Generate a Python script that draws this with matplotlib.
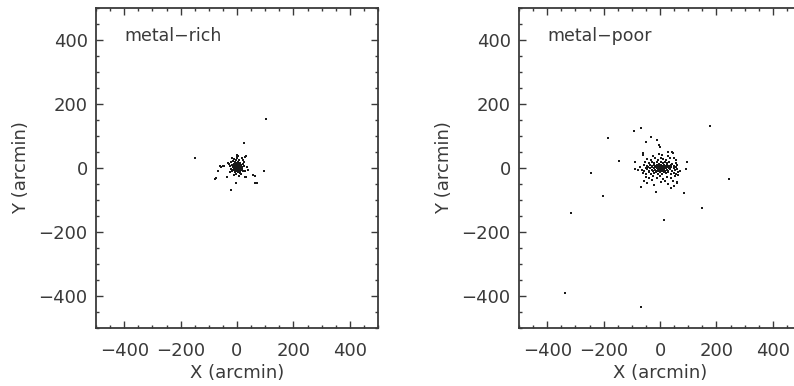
import matplotlib
matplotlib.use("Agg")
import matplotlib.pyplot as plt
from matplotlib.ticker import MultipleLocator

# ---------------- data (arcmin) ----------------
rich_x = [103, -149, 26, 96, 65, 70, 63, -21, -77, -66, -4, -35, 32, 33, -60, -50, 1, 40,
          5, 28, 20, -57, -46, -31, 34, -74, -37, 28, 58, 64,
          -28, -24, -22, -20, -18, -17, -15, -14, -13, -12, -11, -10, -9, -8, -7, -6, -6, -5,
          -4, -4, -3, -2, -2, -1, 0, 0, 1, 1, 2, 2, 3, 3, 4, 5, 5, 6, 7, 7, 8, 9, 10, 10,
          11, 12, 13, 14, 15, 16, 18, 18, 20, 22, 24, 26, -16, 0, -26, 28, -12, 6, -3, 4,
          -8, 12]
rich_y = [154, 30, 77, -9, -48, -48, -24, -69, -33, -8, -48, -27, -27, 37, 7, 7, 40, -6,
          37, 35, 25, 4, 7, 17, 4, -32, -27, -29, -22, -48,
          12, 5, -4, 18, 8, -10, 22, 2, -6, 14, 28, -2, 6, -14, 18, 10, -5, 2,
          25, -9, 13, 4, -18, 8, -3, 16, 1, 30, -7, 10, 5, -12, 20, 0, -4, 12, -8, 3, 24, -2, 8, -15,
          15, 2, -6, 10, -20, 4, 30, -3, 12, -10, 5, 18, 32, 38, -14, -8, -22, -25, 0, 6,
          2, -12]

poor_x = [179, -68, -91, -184, -33, -48, -12, -4, 0, -147, -244, 246, -201, 85, 150, -317,
          14, -337, -67, 96, 91, -89, -88, -77, -66, -13, 38, 61, -45, -60, -62, 29, 41, 57,
          61, 65, 60,
          -50, -38, -25, -12, 0, 12, 25, 40, 52, -30, 18, 45, -55, 5, 30, -20, 50,
          -60, -48, -40, -32, -22, -15, -8, 0, 6, 14, 22, 30, 38, 48, 58, 65,
          -65, -55, -45, -38, -30, -25, -18, -12, -6, -2, 3, 8, 12, 18, 24, 30, 36, 44, 52,
          60, 70,
          -70, -50, -42, -35, -28, -20, -15, -10, -5, 0, 2, 5, 8, 11, 15, 20, 26, 33, 40,
          48, 55,
          -58, -45, -36, -28, -22, -16, -10, -4, 1, 4, 9, 14, 19, 25, 32, 40, 50,
          -52, -40, -30, -20, -12, -5, 3, 10, 17, 24, 32, 42, 55,
          -45, -32, -18, -8, 2, 12, 22, 35, 48, -25, 8, 28, 45, -5,
          -3, 1, 6, -7, 3, -1, 9, -12, 14, 17]
poor_y = [131, 124, 117, 93, 96, 82, 88, 72, 65, 21, -15, -34, -87, -79, -125, -142,
          -163, -390, -435, 20, -3, 20, -4, -6, -58, -75, -62, -48, -46, 46, 41, 51, 51, 25,
          9, -12, -43,
          -28, -32, -26, -30, -24, -33, -28, -30, -25, -38, -40, -42, -40, -45, -50, -52, -55,
          -15, -18, -12, -20, -16, -12, -19, -14, -18, -12, -17, -14, -20, -15, -18, -22,
          -5, -8, -4, -9, -6, -10, -5, -8, -4, -9, -6, -10, -4, -8, -5, -9, -4, -8, -6,
          -3, -10,
          2, 0, 3, -1, 2, 0, 3, -1, 2, 0, -2, 3, 0, -2, 2, -1, 3, 0, 2,
          -1, 3,
          8, 6, 10, 5, 9, 6, 10, 7, 5, 9, 6, 10, 5, 8, 6, 10, 7,
          18, 15, 20, 16, 19, 14, 18, 15, 20, 16, 19, 14, 17,
          28, 25, 30, 26, 32, 28, 24, 30, 32, 38, 40, 38, 48, 45,
          1, -3, -1, -3, 3, 6, -6, 4, -6, 1]

labels = ["metal\u2212rich", "metal\u2212poor"]
xticks = [-400, -200, 0, 200, 400]
yticks = [-400, -200, 0, 200, 400]

# ---------------- figure ----------------
W, H = 794, 386
fig = plt.figure(figsize=(W / 100, H / 100), dpi=100)
plt.rcParams['font.family'] = ['DejaVu Sans']

txt_col = '#3a3a3a'
panels = [(96, rich_x, rich_y, labels[0]), (519, poor_x, poor_y, labels[1])]
for left_px, xs, ys, lab in panels:
    ax = fig.add_axes([left_px / W, (H - 328) / H, 282 / W, 320 / H])
    ax.scatter(xs, ys, s=3.0, marker='s', color='#1a1a1a', linewidths=0)
    ax.set_xlim(-500, 500)
    ax.set_ylim(-500, 500)
    ax.set_xticks(xticks)
    ax.set_yticks(yticks)
    ax.xaxis.set_minor_locator(MultipleLocator(50))
    ax.yaxis.set_minor_locator(MultipleLocator(50))
    ax.set_xticklabels([str(v).replace('-', '\u2212') for v in xticks])
    ax.set_yticklabels([str(v).replace('-', '\u2212') for v in yticks])
    ax.tick_params(which='both', direction='in', top=True, right=True,
                   color=txt_col, width=1.0, labelsize=13, labelcolor=txt_col)
    ax.tick_params(which='major', length=5)
    ax.tick_params(which='minor', length=2.5)
    ax.tick_params(axis='y', which='major', pad=6)
    ax.tick_params(axis='x', which='major', pad=10)
    for sp in ax.spines.values():
        sp.set_color(txt_col)
        sp.set_linewidth(1.3)
    ax.set_xlabel('X (arcmin)', fontsize=13, color=txt_col, labelpad=3)
    ax.set_ylabel('Y (arcmin)', fontsize=13, color=txt_col, labelpad=6)
    ax.text(-400, 398, lab, fontsize=12.5, color=txt_col, ha='left', va='baseline')

fig.savefig('out.png', dpi=100)
